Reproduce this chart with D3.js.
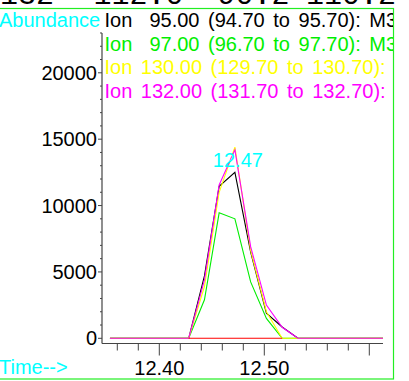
<!DOCTYPE html>
<html>
<head>
<meta charset="utf-8">
<script src="https://cdn.jsdelivr.net/npm/d3@7"></script>
<style>
  html, body { margin: 0; padding: 0; background: #fff; }
  svg { display: block; }
  text { font-family: "Liberation Sans", Arial, sans-serif; }
</style>
</head>
<body>
<svg id="chart" width="409" height="381"></svg>
<script>
// ---- data ----
const headerLabels = ["132", "112.0", "90.2", "110.2"];
const legendLabels = [
  "Ion  95.00 (94.70 to 95.70): M3",
  "Ion  97.00 (96.70 to 97.70): M3",
  "Ion 130.00 (129.70 to 130.70): M3",
  "Ion 132.00 (131.70 to 132.70): M3"
];
const seriesColors = ["#000000", "#00ee00", "#ffff00", "#ff00ff"];
const times = [12.353, 12.428, 12.443, 12.457, 12.472, 12.487, 12.502, 12.517, 12.532, 12.613];
const ion95  = [0, 0, 4700, 11450, 12500, 6500, 1900, 850, 0, 0];
const ion97  = [0, 0, 2900, 9450, 9000, 4250, 1500, 0, 0, 0];
const ion130 = [0, 0, 3900, 11000, 14400, 6600, 2000, 0, 0, 0];
const ion132 = [0, 0, 4400, 11550, 14200, 6900, 2500, 830, 0, 0];
const redTimes = [12.428, 12.517];
const redValues = [0, 0];
const yMajorTicks = [0, 5000, 10000, 15000, 20000];
const xMajorTicks = [12.40, 12.50, 12.60];
const xTickLabels = ["12.40", "12.50", ""];
const peakLabel = "12.47";
const peakTime = 12.472;
const peakValue = 14400;

// ---- layout ----
const svg = d3.select("#chart");
const x = d3.scaleLinear().domain([12.36, 12.60]).range([117.3, 369.3]);
const y = d3.scaleLinear().domain([0, 20000]).range([338.3, 72.8]);
const axisY0 = 343.5, axisX0 = 102;
const axisColor = "#444";

// frame
svg.append("rect").attr("x", -5).attr("y", 8.5).attr("width", 398.5).attr("height", 370.5)
  .attr("fill", "none").attr("stroke", "#22ee22").attr("stroke-width", 1.2);

// header (cut off at top)
const headerX = [27, 138.5, 253.5, 351];
svg.selectAll("text.hdr").data(headerLabels).join("text")
  .attr("class", "hdr")
  .attr("x", (d, i) => headerX[i]).attr("y", 4)
  .attr("text-anchor", "middle")
  .style("font-family", "'Liberation Mono', 'DejaVu Sans Mono', monospace")
  .style("font-size", "30px")
  .attr("fill", "#000")
  .text(d => d);

// clip for legend
svg.append("clipPath").attr("id", "frameClip")
  .append("rect").attr("x", 0).attr("y", 9).attr("width", 393).attr("height", 369);

// Abundance label
svg.append("text").attr("x", -1).attr("y", 27).attr("fill", "#00ffff")
  .style("font-size", "20px").text("Abundance");

// legend
const legG = svg.append("g").attr("clip-path", "url(#frameClip)");
legG.selectAll("text").data(legendLabels).join("text")
  .attr("x", 104.5).attr("y", (d, i) => 27 + i * 23.6)
  .attr("fill", (d, i) => seriesColors[i])
  .style("font-size", "20px").style("white-space", "pre")
  .style("word-spacing", "3px")
  .text(d => d);

// Y axis
const yTop = y(23000);
svg.append("line").attr("x1", axisX0).attr("x2", axisX0).attr("y1", yTop).attr("y2", axisY0)
  .attr("stroke", axisColor).attr("stroke-width", 1.2);
const yMinor = d3.range(0, 23001, 1000);
svg.selectAll("line.ymin").data(yMinor).join("line")
  .attr("class", "ymin")
  .attr("x1", d => yMajorTicks.includes(d) ? axisX0 - 4 : axisX0 - 2).attr("x2", axisX0)
  .attr("y1", d => y(d)).attr("y2", d => y(d))
  .attr("stroke", axisColor).attr("stroke-width", 1);
svg.selectAll("text.ylab").data(yMajorTicks).join("text")
  .attr("class", "ylab")
  .attr("x", 97).attr("y", d => y(d)).attr("dy", "0.35em")
  .attr("text-anchor", "end").style("font-size", "20px").attr("fill", "#000")
  .text(d => d);

// X axis
svg.append("line").attr("x1", axisX0).attr("x2", 383).attr("y1", axisY0).attr("y2", axisY0)
  .attr("stroke", axisColor).attr("stroke-width", 1.2);
const xMinor = d3.range(12.36, 12.601, 0.02).map(v => +v.toFixed(2));
svg.selectAll("line.xmin").data(xMinor).join("line")
  .attr("class", "xmin")
  .attr("x1", d => x(d)).attr("x2", d => x(d))
  .attr("y1", axisY0).attr("y2", d => xMajorTicks.some(m => Math.abs(m - d) < 1e-6) ? axisY0 + 12 : axisY0 + 7)
  .attr("stroke", axisColor).attr("stroke-width", 1);
svg.selectAll("text.xlab").data(xMajorTicks).join("text")
  .attr("class", "xlab")
  .attr("x", d => x(d)).attr("y", 375)
  .attr("text-anchor", "middle").style("font-size", "20px").attr("fill", "#000")
  .text((d, i) => xTickLabels[i]);

svg.append("text").attr("x", -1).attr("y", 374).attr("fill", "#00ffff")
  .style("font-size", "20px").text("Time-->");

// series
const line = d3.line().x(d => x(d[0])).y(d => y(d[1]));
const allSeries = [ion95, ion97, ion130, ion132];
allSeries.forEach((vals, i) => {
  svg.append("path").datum(times.map((t, j) => [t, vals[j]]))
    .attr("d", line).attr("fill", "none")
    .attr("stroke", seriesColors[i]).attr("stroke-width", 1.1);
});
svg.append("path").datum(redTimes.map((t, j) => [t, redValues[j]]))
  .attr("d", line).attr("fill", "none").attr("stroke", "#ff0000").attr("stroke-width", 1.1);

// peak label
svg.append("text").attr("x", x(peakTime) + 3).attr("y", y(peakValue) + 19.5)
  .attr("text-anchor", "middle").attr("fill", "#00ffff").style("font-size", "20px")
  .text(peakLabel);
</script>
</body>
</html>
